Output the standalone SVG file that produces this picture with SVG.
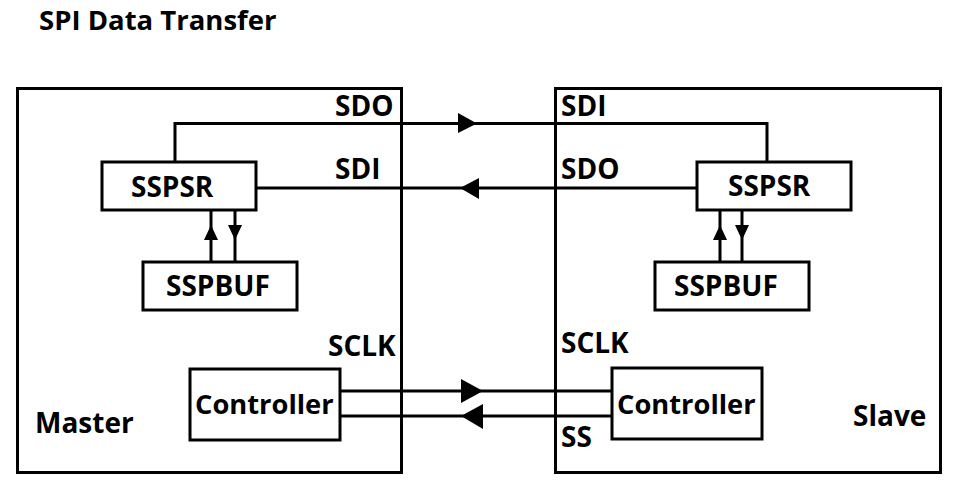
<svg xmlns="http://www.w3.org/2000/svg" width="957" height="482" viewBox="0 0 957 482">
<style>
.box{fill:none;stroke:#000;stroke-width:3}
.node{fill:#fff;stroke:#000;stroke-width:3}
.wire{fill:none;stroke:#000;stroke-width:3}
.head{fill:#000;stroke:none}
text{font-family:"Open Sans","Noto Sans","DejaVu Sans",sans-serif;font-weight:700;font-size:28px;fill:#000}
.ctl{font-size:27.3px}
.ttl{font-size:27.5px}
</style>
<rect width="957" height="482" fill="#fff"/>
<text id="title" class="ttl" x="39" y="29.5">SPI Data Transfer</text>

<g id="master">
<rect class="box" x="17.5" y="88.5" width="384" height="384"/>
<text x="35" y="433">Master</text>
<text x="335" y="116">SDO</text>
<text x="335" y="179">SDI</text>
<text x="328" y="356">SCLK</text>
</g>
<g id="slave">
<rect class="box" x="555.5" y="88.5" width="385" height="384"/>
<text x="853" y="426">Slave</text>
<text x="561" y="116">SDI</text>
<text x="561" y="179">SDO</text>
<text x="561" y="353">SCLK</text>
<text x="561" y="447">SS</text>
</g>

<g id="connectors">
<path class="wire" d="M175,162 V123.5 H767 V162"/>
<polygon class="head" points="458,113 458,133 477,123.5"/>
<path class="wire" d="M697,188 H256"/>
<polygon class="head" points="479,178 479,199 460,188"/>
<path class="wire" d="M211,262 V210"/>
<polygon class="head" points="211,225 204,240 218,240"/>
<path class="wire" d="M235,210 V262"/>
<polygon class="head" points="228,225 242,225 235,240"/>
<path class="wire" d="M720,262 V210"/>
<polygon class="head" points="720,225 713,240 727,240"/>
<path class="wire" d="M742,210 V262"/>
<polygon class="head" points="735,225 749,225 742,240"/>
<path class="wire" d="M340,391 H612"/>
<polygon class="head" points="461,379 461,403 483,391"/>
<path class="wire" d="M612,416 H340"/>
<polygon class="head" points="483,404 483,429 461,416"/>
</g>

<g id="m_sspsr">
<rect class="node" x="102" y="162" width="154" height="48"/>
<text x="131" y="197">SSPSR</text>
</g>
<g id="m_sspbuf">
<rect class="node" x="143" y="262" width="154" height="48"/>
<text x="166" y="296">SSPBUF</text>
</g>
<g id="s_sspsr">
<rect class="node" x="697" y="162" width="154" height="48"/>
<text x="728" y="196">SSPSR</text>
</g>
<g id="s_sspbuf">
<rect class="node" x="655" y="262" width="154" height="48"/>
<text x="674" y="296">SSPBUF</text>
</g>
<g id="m_ctrl">
<rect class="node" x="190" y="369" width="150" height="71"/>
<text class="ctl" x="195" y="414">Controller</text>
</g>
<g id="s_ctrl">
<rect class="node" x="612" y="368" width="150" height="71"/>
<text class="ctl" x="617" y="414">Controller</text>
</g>
</svg>
